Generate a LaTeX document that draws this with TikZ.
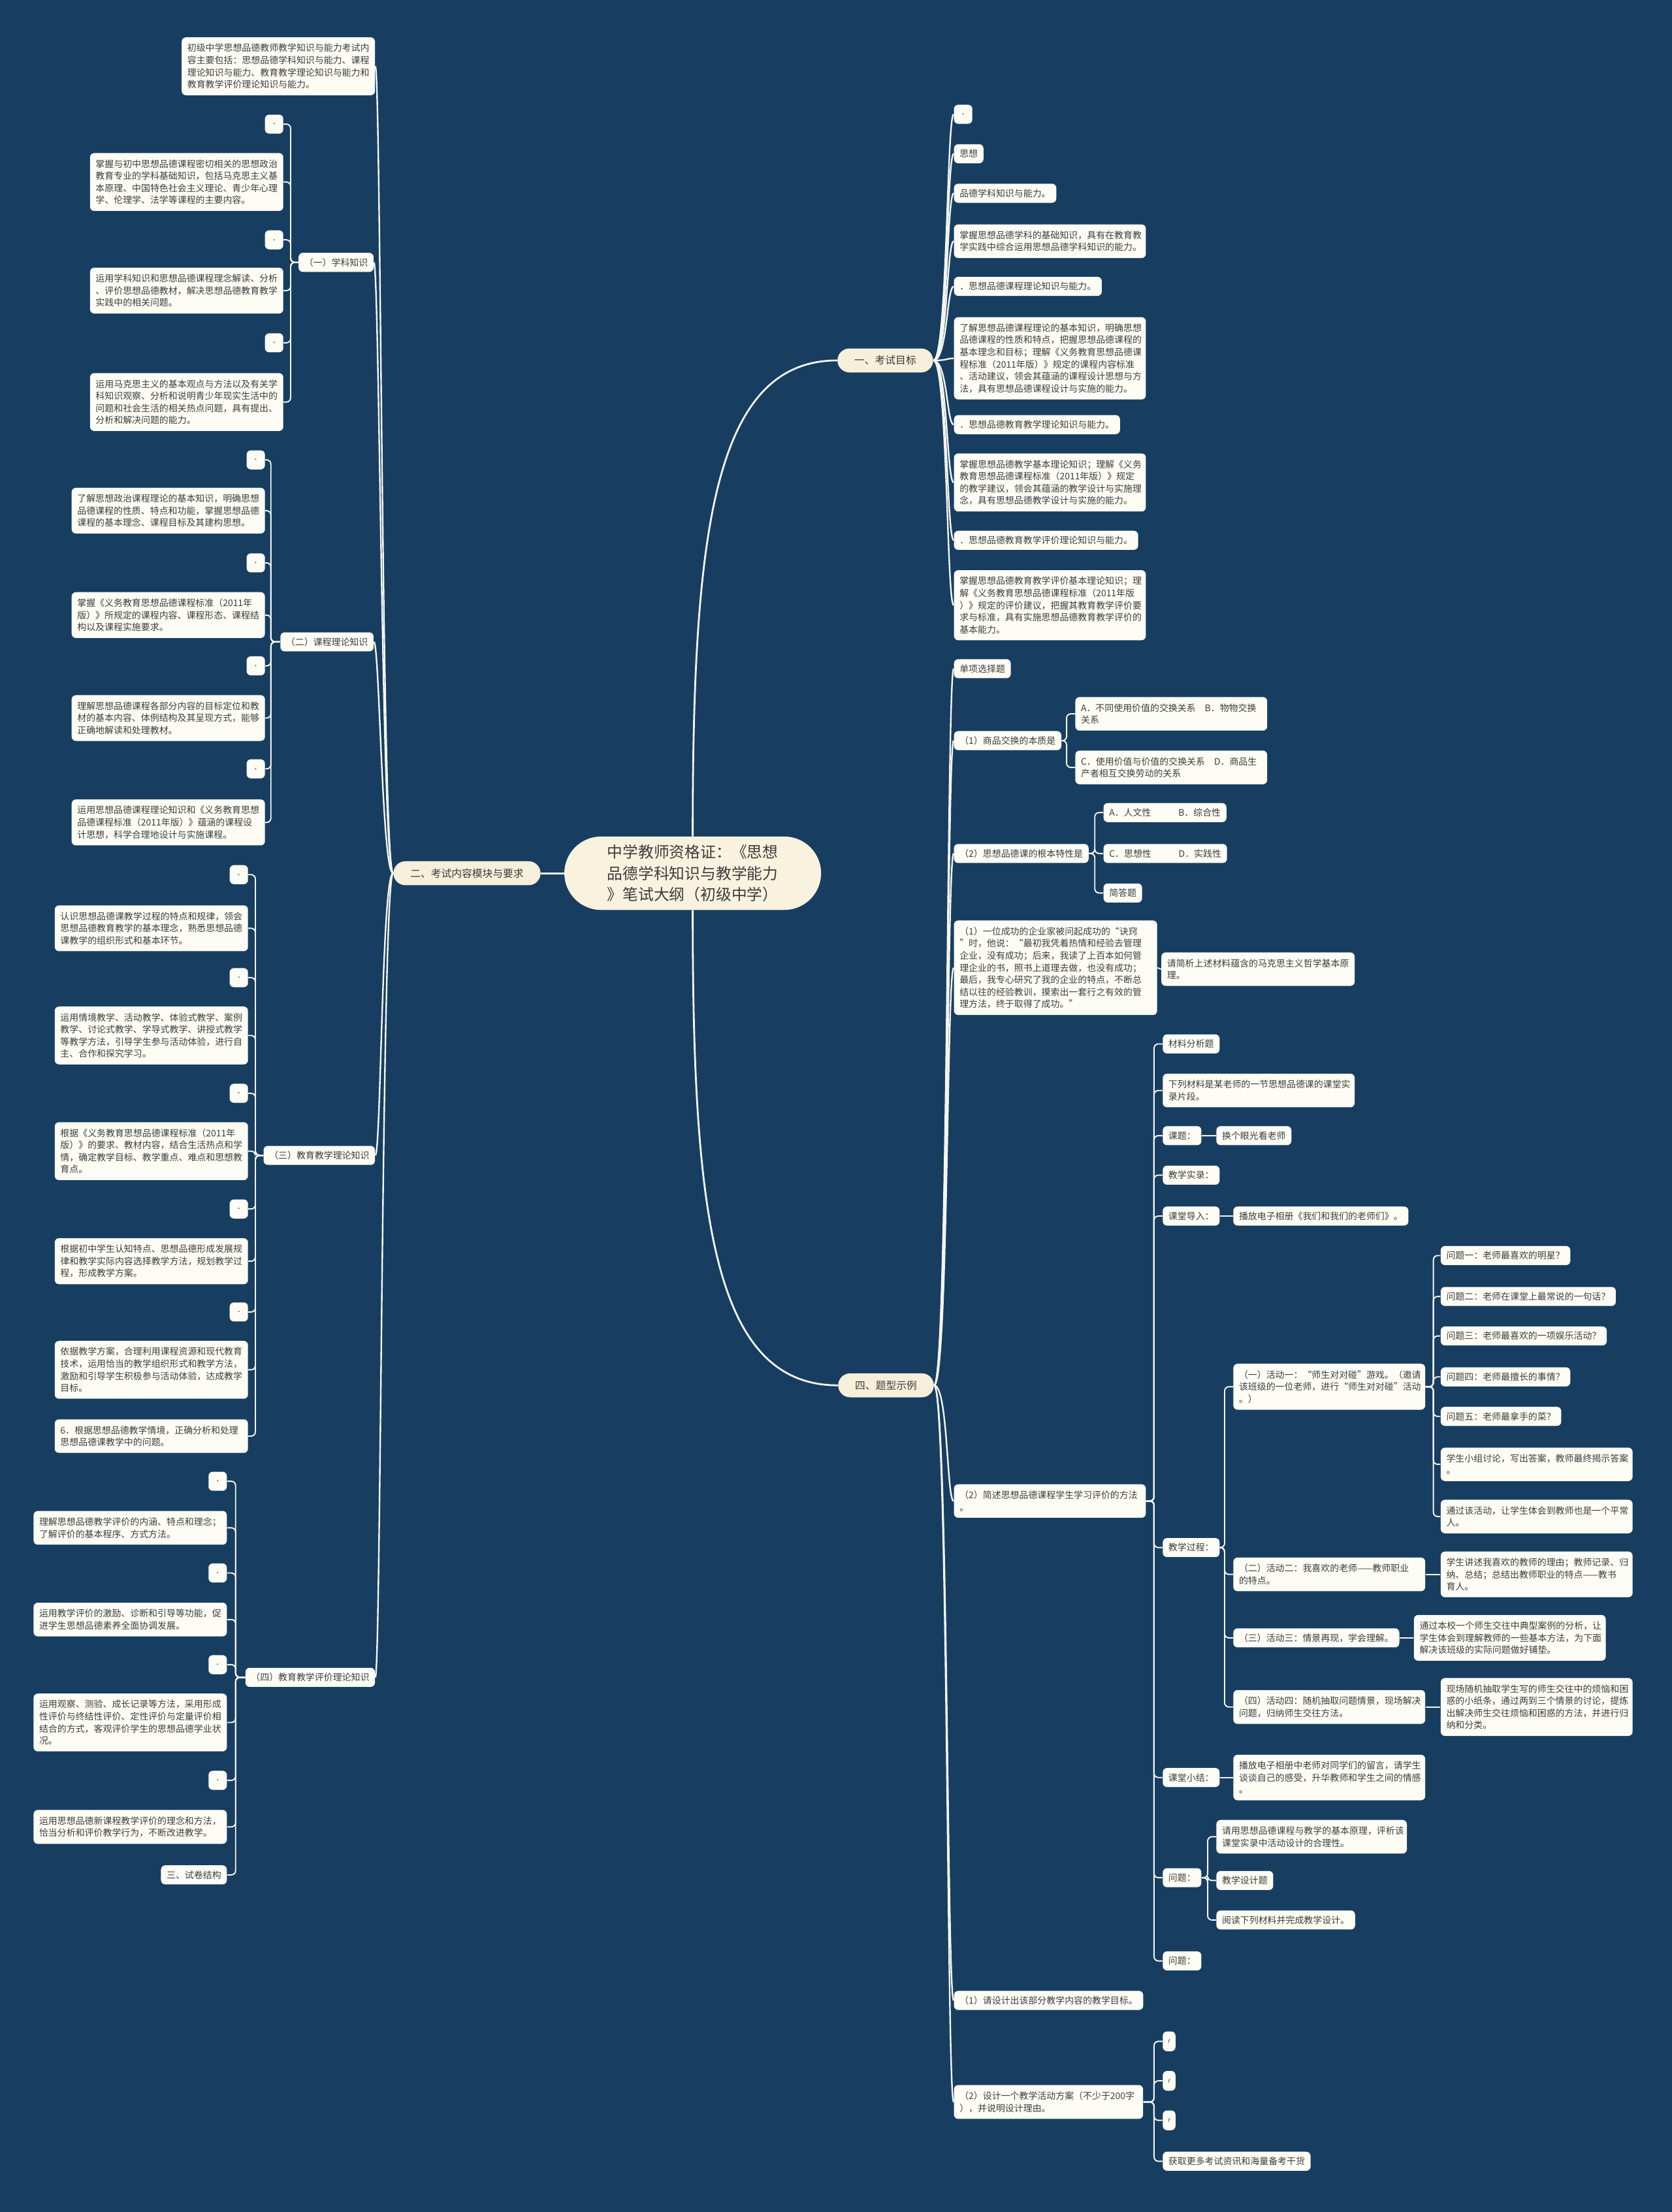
\documentclass[tikz,border=0pt]{standalone}
\usepackage{fontspec}
\setmainfont{Noto Sans CJK SC}
\newfontfamily\symfont{DejaVu Sans}
\definecolor{bgc}{HTML}{173E60}
\definecolor{boxc}{HTML}{FDFDF6}
\definecolor{pillc}{HTML}{F6EFD9}
\definecolor{cenc}{HTML}{F8F2DE}
\definecolor{txtc}{HTML}{3C3C3C}
\definecolor{linec}{HTML}{F4F4F0}
\begin{document}
\begin{tikzpicture}[x=1pt,y=-1pt,
  basebox/.style={fill=boxc, rounded corners=3pt, text=txtc, font=\fontsize{6.45}{8.6}\selectfont, inner xsep=4pt, align=left},
  sbox/.style={basebox, inner ysep=0pt, minimum height=13.5pt},
  mbox/.style={basebox, inner ysep=4.6pt, text width=#1},
  mbox/.default=128pt,
  dotbox/.style={sbox, minimum width=13pt, inner xsep=0pt},
  tinybox/.style={sbox, minimum width=9pt, inner xsep=0pt, minimum height=14pt},
  pill/.style={fill=pillc, rounded corners=8.5pt, minimum height=17pt, inner xsep=12pt, inner ysep=0pt, text=txtc, font=\fontsize{7.3}{8}\selectfont},
  cen/.style={fill=cenc, rounded corners=26pt, minimum width=182pt, minimum height=52pt, inner sep=0pt, text width=121pt, align=left, text=txtc, font=\fontsize{11}{15}\selectfont},
  mline/.style={draw=linec, line width=1.3pt},
  lvtwo/.style={draw=linec, line width=1.1pt},
  elb/.style={draw=linec, line width=0.9pt, rounded corners=3pt},
  R/.style={anchor=west}, L/.style={anchor=east}
]
\fill[bgc] (0,0) rectangle (1185,1568);
\useasboundingbox (0,0) rectangle (1185,1568);

% ---------- centre and branches ----------
\node[cen] (c) at (491,619) {中学教师资格证：《思想\\品德学科知识与教学能力\\》笔试大纲（初级中学）};
\node[pill] (b1) at (627.5,255.5) {一、考试目标};
\node[pill] (b2) at (331,619) {二、考试内容模块与要求};
\node[pill] (b4) at (628,982) {四、题型示例};

% ---------- left side ----------
\node[mbox=129pt, L] (l0) at (266,47) {初级中学思想品德教师教学知识与能力考试内\\容主要包括：思想品德学科知识与能力、课程\\理论知识与能力、教育教学理论知识与能力和\\教育教学评价理论知识与能力。};

\node[sbox, L] (g1) at (265,186) {（一）学科知识};
\node[dotbox, L] (g1a) at (201,88) {.};
\node[mbox=129pt, L] (g1b) at (201,129) {掌握与初中思想品德课程密切相关的思想政治\\教育专业的学科基础知识，包括马克思主义基\\本原理、中国特色社会主义理论、青少年心理\\学、伦理学、法学等课程的主要内容。};
\node[dotbox, L] (g1c) at (201,170) {.};
\node[mbox=129pt, L] (g1d) at (201,206) {运用学科知识和思想品德课程理念解读、分析\\、评价思想品德教材，解决思想品德教育教学\\实践中的相关问题。};
\node[dotbox, L] (g1e) at (201,243) {.};
\node[mbox=129pt, L] (g1f) at (201,285) {运用马克思主义的基本观点与方法以及有关学\\科知识观察、分析和说明青少年现实生活中的\\问题和社会生活的相关热点问题，具有提出、\\分析和解决问题的能力。};

\node[sbox, L] (g2) at (265,455) {（二）课程理论知识};
\node[dotbox, L] (g2a) at (188,326) {.};
\node[mbox=129pt, L] (g2b) at (188,362) {了解思想政治课程理论的基本知识，明确思想\\品德课程的性质、特点和功能，掌握思想品德\\课程的基本理念、课程目标及其建构思想。};
\node[dotbox, L] (g2c) at (188,399) {.};
\node[mbox=129pt, L] (g2d) at (188,436) {掌握《义务教育思想品德课程标准（2011年\\版）》所规定的课程内容、课程形态、课程结\\构以及课程实施要求。};
\node[dotbox, L] (g2e) at (188,472) {.};
\node[mbox=129pt, L] (g2f) at (188,509) {理解思想品德课程各部分内容的目标定位和教\\材的基本内容、体例结构及其呈现方式，能够\\正确地解读和处理教材。};
\node[dotbox, L] (g2g) at (188,545) {.};
\node[mbox=129pt, L] (g2h) at (188,583) {运用思想品德课程理论知识和《义务教育思想\\品德课程标准（2011年版）》蕴涵的课程设\\计思想，科学合理地设计与实施课程。};

\node[sbox, L] (g3) at (266,819) {（三）教育教学理论知识};
\node[dotbox, L] (g3a) at (176,620) {.};
\node[mbox=129pt, L] (g3b) at (176,658) {认识思想品德课教学过程的特点和规律，领会\\思想品德教育教学的基本理念，熟悉思想品德\\课教学的组织形式和基本环节。};
\node[dotbox, L] (g3c) at (176,693) {.};
\node[mbox=129pt, L] (g3d) at (176,734) {运用情境教学、活动教学、体验式教学、案例\\教学、讨论式教学、学导式教学、讲授式教学\\等教学方法，引导学生参与活动体验，进行自\\主、合作和探究学习。};
\node[dotbox, L] (g3e) at (176,775) {.};
\node[mbox=129pt, L] (g3f) at (176,816) {根据《义务教育思想品德课程标准（2011年\\版）》的要求、教材内容，结合生活热点和学\\情，确定教学目标、教学重点、难点和思想教\\育点。};
\node[dotbox, L] (g3g) at (176,857) {.};
\node[mbox=129pt, L] (g3h) at (176,894) {根据初中学生认知特点、思想品德形成发展规\\律和教学实际内容选择教学方法，规划教学过\\程，形成教学方案。};
\node[dotbox, L] (g3i) at (176,930) {.};
\node[mbox=129pt, L] (g3j) at (176,971) {依据教学方案，合理利用课程资源和现代教育\\技术，运用恰当的教学组织形式和教学方法，\\激励和引导学生积极参与活动体验，达成教学\\目标。};
\node[mbox=129pt, L] (g3k) at (176,1018) {6．根据思想品德教学情境，正确分析和处理\\思想品德课教学中的问题。};

\node[sbox, L] (g4) at (266,1189) {（四）教育教学评价理论知识};
\node[dotbox, L] (g4a) at (161,1050) {.};
\node[mbox=129pt, L] (g4b) at (161,1083) {理解思想品德教学评价的内涵、特点和理念；\\了解评价的基本程序、方式方法。};
\node[dotbox, L] (g4c) at (161,1115) {.};
\node[mbox=129pt, L] (g4d) at (161,1148) {运用教学评价的激励、诊断和引导等功能，促\\进学生思想品德素养全面协调发展。};
\node[dotbox, L] (g4e) at (161,1180) {.};
\node[mbox=129pt, L] (g4f) at (161,1221) {运用观察、测验、成长记录等方法，采用形成\\性评价与终结性评价、定性评价与定量评价相\\结合的方式，客观评价学生的思想品德学业状\\况。};
\node[dotbox, L] (g4g) at (161,1262) {.};
\node[mbox=129pt, L] (g4h) at (161,1295) {运用思想品德新课程教学评价的理念和方法，\\恰当分析和评价教学行为，不断改进教学。};
\node[sbox, L] (g4i) at (161,1329) {三、试卷结构};

% ---------- right side: 一 ----------
\node[dotbox, R] (r1) at (676,81) {.};
\node[sbox, R] (r2) at (676,109) {思想};
\node[sbox, R] (r3) at (676,137) {品德学科知识与能力。};
\node[mbox, R] (r4) at (676,171) {掌握思想品德学科的基础知识，具有在教育教\\学实践中综合运用思想品德学科知识的能力。};
\node[sbox, R] (r5) at (676,203) {．思想品德课程理论知识与能力。};
\node[mbox, R] (r6) at (676,254) {了解思想品德课程理论的基本知识，明确思想\\品德课程的性质和特点，把握思想品德课程的\\基本理念和目标；理解《义务教育思想品德课\\程标准（2011年版）》规定的课程内容标准\\、活动建议，领会其蕴涵的课程设计思想与方\\法，具有思想品德课程设计与实施的能力。};
\node[sbox, R] (r7) at (676,301) {．思想品德教育教学理论知识与能力。};
\node[mbox, R] (r8) at (676,342) {掌握思想品德教学基本理论知识；理解《义务\\教育思想品德课程标准（2011年版）》规定\\的教学建议，领会其蕴涵的教学设计与实施理\\念，具有思想品德教学设计与实施的能力。};
\node[sbox, R] (r9) at (676,383) {．思想品德教育教学评价理论知识与能力。};
\node[mbox, R] (r10) at (676,429) {掌握思想品德教育教学评价基本理论知识；理\\解《义务教育思想品德课程标准（2011年版\\）》规定的评价建议，把握其教育教学评价要\\求与标准，具有实施思想品德教育教学评价的\\基本能力。};

% ---------- right side: 四 ----------
\node[sbox, R] (f1) at (676,474) {单项选择题};
\node[sbox, R] (q1) at (676,525) {（1）商品交换的本质是};
\node[mbox, R] (q1a) at (762,506) {A．不同使用价值的交换关系　B．物物交换\\关系};
\node[mbox, R] (q1b) at (762,544) {C．使用价值与价值的交换关系　D．商品生\\产者相互交换劳动的关系};
\node[sbox, R] (q2) at (676,605) {（2）思想品德课的根本特性是};
\node[sbox, R] (q2a) at (782,576) {A．人文性　　　B．综合性};
\node[sbox, R] (q2b) at (782,605) {C．思想性　　　D．实践性};
\node[sbox, R] (q2c) at (782,633) {简答题};
\node[mbox=136pt, R] (q3) at (676,686) {（1）一位成功的企业家被问起成功的“诀窍\\”时，他说：“最初我凭着热情和经验去管理\\企业，没有成功；后来，我读了上百本如何管\\理企业的书，照书上道理去做，也没有成功；\\最后，我专心研究了我的企业的特点，不断总\\结以往的经验教训，摸索出一套行之有效的管\\理方法，终于取得了成功。”};
\node[mbox=129pt, R] (q3a) at (823,687) {请简析上述材料蕴含的马克思主义哲学基本原\\理。};

\node[mbox, R] (q4) at (676,1064) {（2）简述思想品德课程学生学习评价的方法\\。};
\node[sbox, R] (m1) at (824,740) {材料分析题};
\node[mbox, R] (m2) at (824,773) {下列材料是某老师的一节思想品德课的课堂实\\录片段。};
\node[sbox, R] (m3) at (824,805) {课题：};
\node[sbox, R] (m3a) at (862,805) {换个眼光看老师};
\node[sbox, R] (m4) at (824,833) {教学实录：};
\node[sbox, R] (m5) at (824,862) {课堂导入：};
\node[sbox, R] (m5a) at (874,862) {播放电子相册《我们和我们的老师们》。};
\node[sbox, R] (m6) at (824,1097) {教学过程：};
\node[mbox, R] (h1) at (874,983) {（一）活动一：“师生对对碰”游戏。（邀请\\该班级的一位老师，进行“师生对对碰”活动\\。）};
\node[sbox, R] (h1a) at (1021,890) {问题一：老师最喜欢的明星？};
\node[sbox, R] (h1b) at (1021,919) {问题二：老师在课堂上最常说的一句话？};
\node[sbox, R] (h1c) at (1021,947) {问题三：老师最喜欢的一项娱乐活动？};
\node[sbox, R] (h1d) at (1021,976) {问题四：老师最擅长的事情？};
\node[sbox, R] (h1e) at (1021,1004) {问题五：老师最拿手的菜？};
\node[mbox, R] (h1f) at (1021,1038) {学生小组讨论，写出答案，教师最终揭示答案\\。};
\node[mbox, R] (h1g) at (1021,1075) {通过该活动，让学生体会到教师也是一个平常\\人。};
\node[mbox, R] (h2) at (874,1116) {（二）活动二：我喜欢的老师——教师职业\\的特点。};
\node[mbox, R] (h2a) at (1021,1116) {学生讲述我喜欢的教师的理由；教师记录、归\\纳、总结；总结出教师职业的特点——教书\\育人。};
\node[sbox, R] (h3) at (874,1161) {（三）活动三：情景再现，学会理解。};
\node[mbox, R] (h3a) at (1002,1161) {通过本校一个师生交往中典型案例的分析，让\\学生体会到理解教师的一些基本方法，为下面\\解决该班级的实际问题做好铺垫。};
\node[mbox, R] (h4) at (874,1210) {（四）活动四：随机抽取问题情景，现场解决\\问题，归纳师生交往方法。};
\node[mbox, R] (h4a) at (1021,1210) {现场随机抽取学生写的师生交往中的烦恼和困\\惑的小纸条，通过两到三个情景的讨论，提炼\\出解决师生交往烦恼和困惑的方法，并进行归\\纳和分类。};
\node[sbox, R] (m7) at (824,1260) {课堂小结：};
\node[mbox, R] (m7a) at (874,1260) {播放电子相册中老师对同学们的留言，请学生\\谈谈自己的感受，升华教师和学生之间的情感\\。};
\node[sbox, R] (m8) at (824,1331) {问题：};
\node[mbox=127pt, R] (m8a) at (862,1302) {请用思想品德课程与教学的基本原理，评析该\\课堂实录中活动设计的合理性。};
\node[sbox, R] (m8b) at (862,1333) {教学设计题};
\node[sbox, R] (m8c) at (862,1361) {阅读下列材料并完成教学设计。};
\node[sbox, R] (m9) at (824,1390) {问题：};

\node[sbox, R] (f6) at (676,1418) {（1）请设计出该部分教学内容的教学目标。};
\node[mbox=126pt, R] (q6) at (676,1490) {（2）设计一个教学活动方案（不少于200字\\），并说明设计理由。};
\node[tinybox, R] (q6a) at (824,1447) {\symfont\fontsize{4}{4}\selectfont ṙ};
\node[tinybox, R] (q6b) at (824,1475) {\symfont\fontsize{4}{4}\selectfont ṙ};
\node[tinybox, R] (q6c) at (824,1503) {\symfont\fontsize{4}{4}\selectfont ṙ};
\node[sbox, R] (q6d) at (824,1532) {获取更多考试资讯和海量备考干货};

% ---------- connectors ----------
\draw[mline] (c.north) .. controls (491,380) and (505,255.5) .. (b1.west);
\draw[mline] (c.south) .. controls (491,860) and (505,982) .. (b4.west);
\draw[mline] (c.west) -- (b2.east);

\foreach \n in {r1,r2,r3,r4,r5,r6,r7,r8,r9,r10}
  \draw[lvtwo] (b1.east) .. controls +(10,0) and +(-5,0) .. (\n.west);
\foreach \n in {f1,q1,q2,q3,q4,f6,q6}
  \draw[lvtwo] (b4.east) .. controls +(10,0) and +(-5,0) .. (\n.west);
\foreach \n in {l0,g1,g2,g3,g4}
  \draw[lvtwo] (b2.west) .. controls +(-8,0) and +(4,0) .. (\n.east);

\coordinate (s1) at (206,0);
\coordinate (s2) at (192,0);
\coordinate (s3) at (181,0);
\coordinate (s4) at (167,0);
\foreach \n in {g1a,g1b,g1c,g1d,g1e,g1f}
  \draw[elb] (g1.west) -- (g1.west -| s1) |- (\n.east);
\foreach \n in {g2a,g2b,g2c,g2d,g2e,g2f,g2g,g2h}
  \draw[elb] (g2.west) -- (g2.west -| s2) |- (\n.east);
\foreach \n in {g3a,g3b,g3c,g3d,g3e,g3f,g3g,g3h,g3i,g3j,g3k}
  \draw[elb] (g3.west) -- (g3.west -| s3) |- (\n.east);
\foreach \n in {g4a,g4b,g4c,g4d,g4e,g4f,g4g,g4h,g4i}
  \draw[elb] (g4.west) -- (g4.west -| s4) |- (\n.east);

\coordinate (t1) at (756,0);
\coordinate (t2) at (776,0);
\coordinate (t4) at (818,0);
\coordinate (t6) at (868,0);
\coordinate (th) at (1016,0);
\coordinate (tw) at (856,0);
\foreach \n in {q1a,q1b}
  \draw[elb] (q1.east) -- (q1.east -| t1) |- (\n.west);
\foreach \n in {q2a,q2b,q2c}
  \draw[elb] (q2.east) -- (q2.east -| t2) |- (\n.west);
\draw[elb] (q3.east) -- (q3a.west);
\foreach \n in {m1,m2,m3,m4,m5,m6,m7,m8,m9}
  \draw[elb] (q4.east) -- (q4.east -| t4) |- (\n.west);
\draw[elb] (m3.east) -- (m3a.west);
\draw[elb] (m5.east) -- (m5a.west);
\foreach \n in {h1,h2,h3,h4}
  \draw[elb] (m6.east) -- (m6.east -| t6) |- (\n.west);
\foreach \n in {h1a,h1b,h1c,h1d,h1e,h1f,h1g}
  \draw[elb] (h1.east) -- (h1.east -| th) |- (\n.west);
\draw[elb] (h2.east) -- (h2a.west);
\draw[elb] (h3.east) -- (h3a.west);
\draw[elb] (h4.east) -- (h4a.west);
\draw[elb] (m7.east) -- (m7a.west);
\foreach \n in {m8a,m8b,m8c}
  \draw[elb] (m8.east) -- (m8.east -| tw) |- (\n.west);
\foreach \n in {q6a,q6b,q6c,q6d}
  \draw[elb] (q6.east) -- (q6.east -| t4) |- (\n.west);
\end{tikzpicture}
\end{document}
